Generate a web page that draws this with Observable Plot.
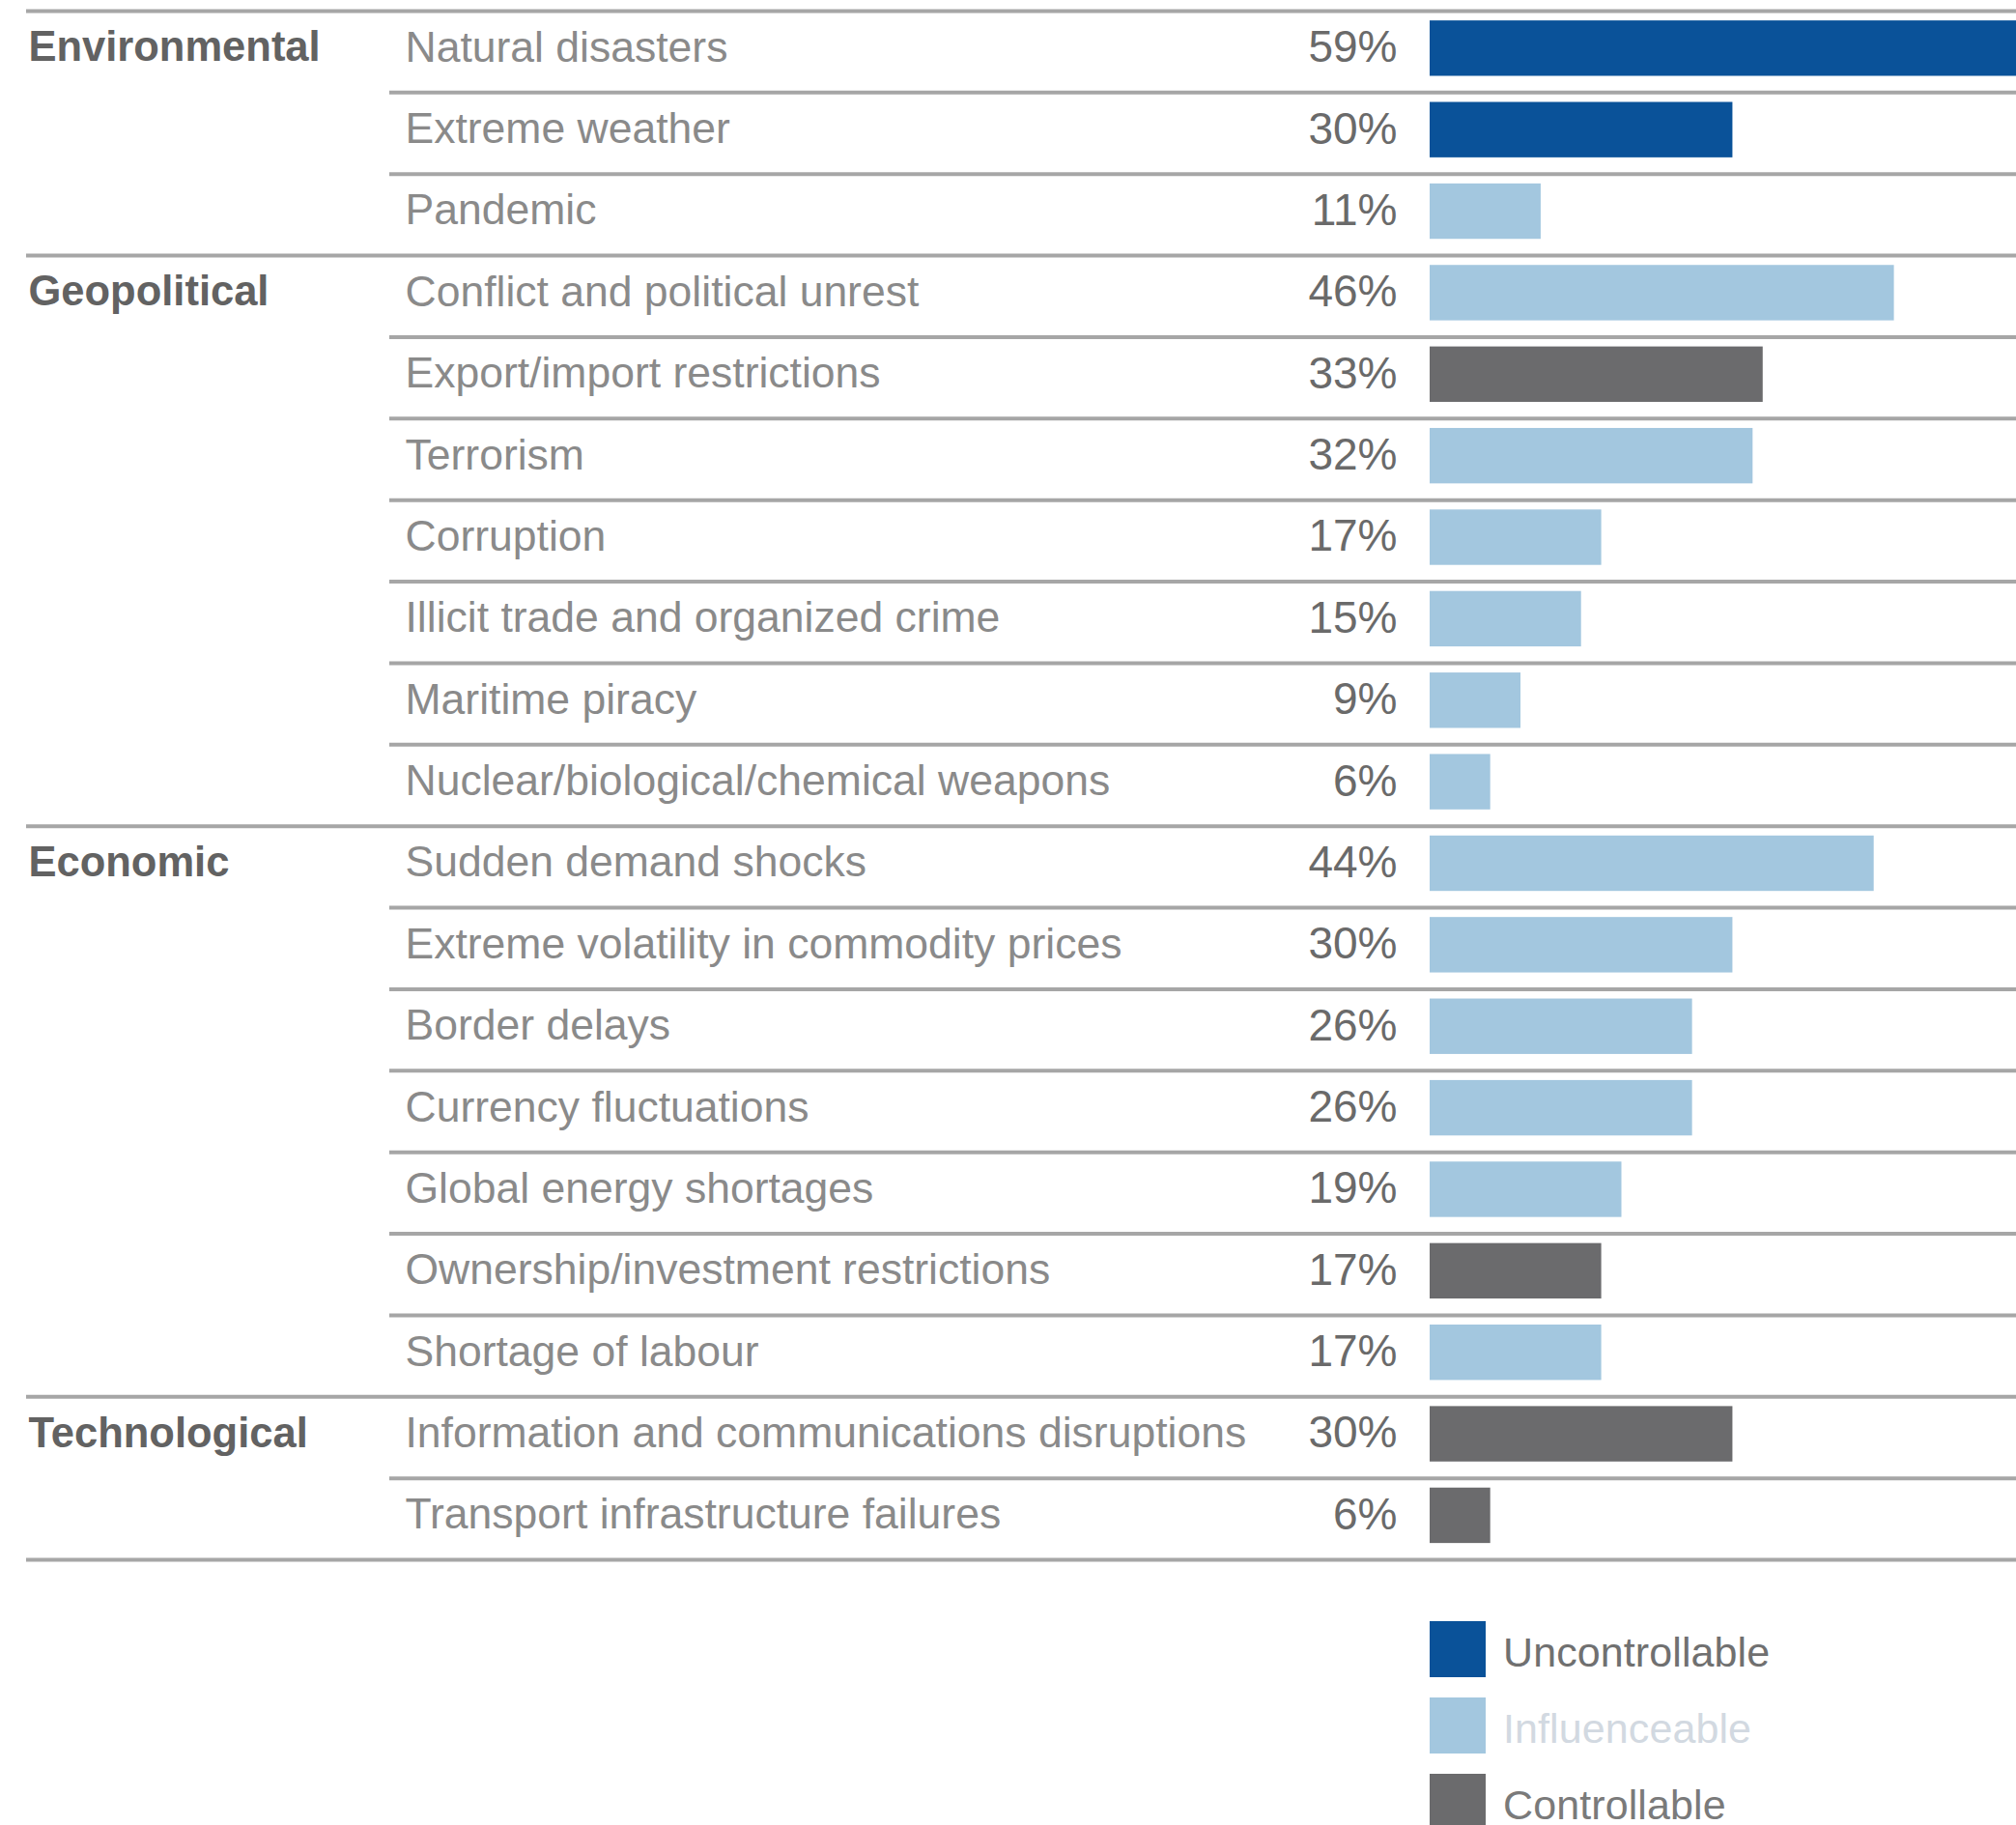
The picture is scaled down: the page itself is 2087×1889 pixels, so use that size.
<!DOCTYPE html>
<html>
<head>
<meta charset="utf-8">
<script src="https://cdn.jsdelivr.net/npm/d3@7"></script>
<script src="https://cdn.jsdelivr.net/npm/@observablehq/plot@0.6"></script>
<style>
  html, body { margin: 0; padding: 0; background: #fff; overflow: hidden; }
  #chart svg { display: block; }
  #legend { padding: 38px 0 0 1480px; font-family: "Liberation Sans", Arial, sans-serif; font-size: 43px; }
  .lg-row { display: flex; align-items: center; height: 58px; margin-bottom: 21px; }
  .lg-sw { width: 58px; height: 58px; flex: none; }
  .lg-tx { margin-left: 18px; padding-top: 6px; letter-spacing: 0.1px; }
</style>
</head>
<body>
<div id="chart"></div>
<div id="legend"></div>
<script>
// ---- data ----
const itemGroups = [
  "Environmental", "Environmental", "Environmental",
  "Geopolitical", "Geopolitical", "Geopolitical", "Geopolitical", "Geopolitical", "Geopolitical", "Geopolitical",
  "Economic", "Economic", "Economic", "Economic", "Economic", "Economic", "Economic",
  "Technological", "Technological"
];
const items = [
  "Natural disasters", "Extreme weather", "Pandemic",
  "Conflict and political unrest", "Export/import restrictions", "Terrorism", "Corruption",
  "Illicit trade and organized crime", "Maritime piracy", "Nuclear/biological/chemical weapons",
  "Sudden demand shocks", "Extreme volatility in commodity prices", "Border delays",
  "Currency fluctuations", "Global energy shortages", "Ownership/investment restrictions",
  "Shortage of labour",
  "Information and communications disruptions", "Transport infrastructure failures"
];
const values = [59, 30, 11, 46, 33, 32, 17, 15, 9, 6, 44, 30, 26, 26, 19, 17, 17, 30, 6];
const types = [
  "Uncontrollable", "Uncontrollable", "Influenceable",
  "Influenceable", "Controllable", "Influenceable", "Influenceable", "Influenceable", "Influenceable", "Influenceable",
  "Influenceable", "Influenceable", "Influenceable", "Influenceable", "Influenceable", "Controllable", "Influenceable",
  "Controllable", "Controllable"
];
const legendLabels = ["Uncontrollable", "Influenceable", "Controllable"];
const legendColors = ["#0a5299", "#a3c7df", "#6b6b6d"];
const legendTextColors = ["#707070", "#d2d9e1", "#7a7a7a"];

// ---- derived tables ----
const rows = items.map((item, i) => ({
  i, item, group: itemGroups[i], value: values[i], type: types[i],
  first: i === 0 || itemGroups[i] !== itemGroups[i - 1]
}));
const boundaries = d3.range(items.length + 1).map(i => ({
  i, major: i === 0 || i === items.length || rows[i].first
}));

const font = "'Liberation Sans', Arial, Helvetica, sans-serif";
const lineColor = "#a6a6a6";

const chart = Plot.plot({
  width: 2087,
  height: 1640,
  marginLeft: 27,
  marginRight: 0,
  marginTop: 0,
  marginBottom: 0,
  style: { fontFamily: font, fontSize: "43px", background: "#fff", overflow: "hidden" },
  x: { domain: [0, 58.1], range: [1480, 2087], axis: null },
  y: { domain: [0, items.length], range: [11, 1614], axis: null },
  color: { domain: legendLabels, range: legendColors },
  marks: [
    Plot.ruleY(boundaries.filter(d => d.major), { y: "i", stroke: lineColor, strokeWidth: 4 }),
    Plot.ruleY(boundaries.filter(d => !d.major), { y: "i", stroke: lineColor, strokeWidth: 4, insetLeft: 376 }),
    Plot.rect(rows, {
      x1: 0, x2: "value",
      y1: d => d.i + 0.12, y2: d => d.i + 0.80,
      fill: "type", clip: true
    }),
    Plot.text(rows.filter(d => d.first), {
      y: d => d.i + 0.45, text: "group", frameAnchor: "left", textAnchor: "start",
      dx: 2, fontWeight: "bold", fill: "#626262", fontSize: 43.5
    }),
    Plot.text(rows, {
      y: d => d.i + 0.45, text: "item", frameAnchor: "left", textAnchor: "start",
      dx: 392, fill: "#8a8a8a", fontSize: 44.5
    }),
    Plot.text(rows, {
      x: 0, y: d => d.i + 0.45, text: d => d.value + "%", textAnchor: "end",
      dx: -34, fill: "#6a6a6a", fontSize: 46
    })
  ]
});
document.getElementById("chart").appendChild(chart);

// ---- legend (below the SVG) ----
const lg = d3.select("#legend");
legendLabels.forEach((label, k) => {
  const row = lg.append("div").attr("class", "lg-row");
  row.append("div").attr("class", "lg-sw").style("background", legendColors[k]);
  row.append("div").attr("class", "lg-tx").style("color", legendTextColors[k]).text(label);
});
</script>
</body>
</html>
